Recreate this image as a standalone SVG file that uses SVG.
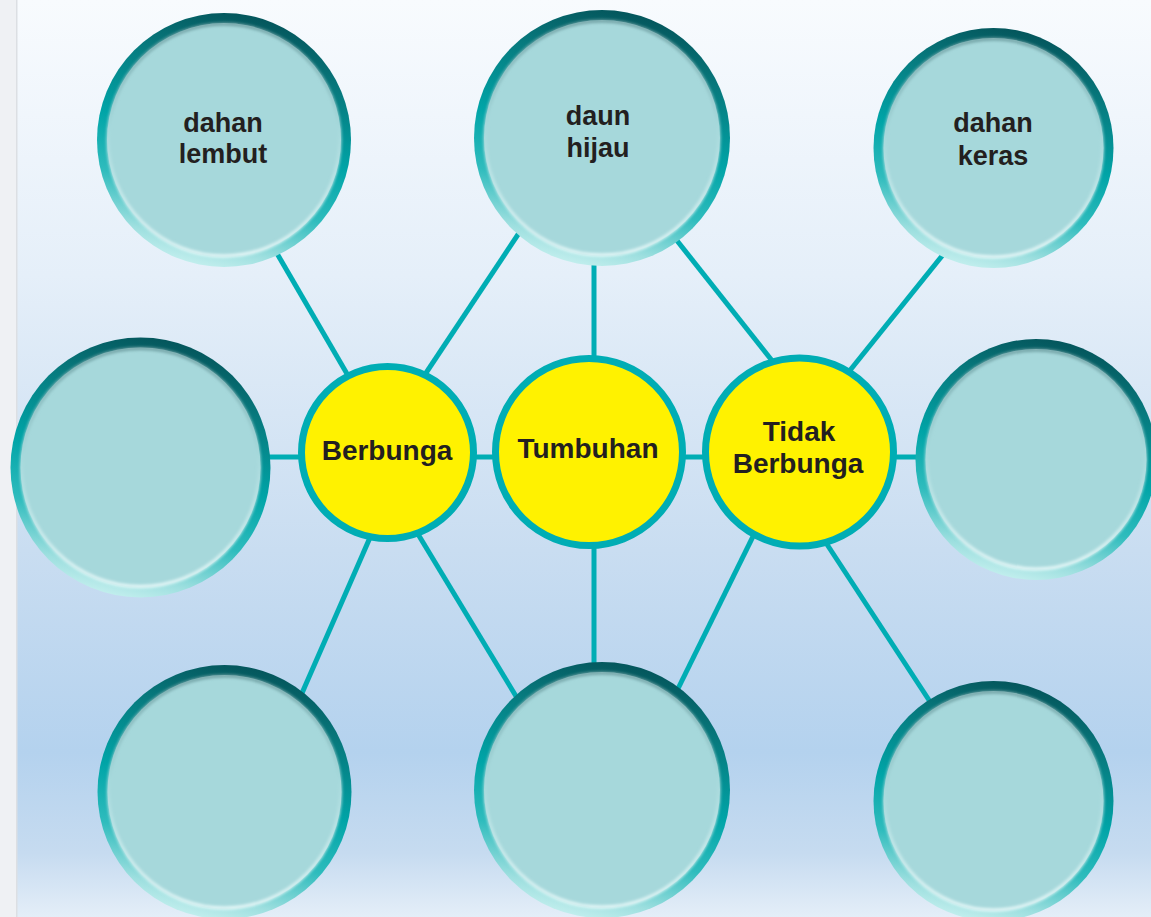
<svg xmlns="http://www.w3.org/2000/svg" width="1151" height="917" viewBox="0 0 1151 917">
  <defs>
    <linearGradient id="bg" x1="0" y1="0" x2="0" y2="1">
      <stop offset="0" stop-color="#f8fbfe"/>
      <stop offset="0.3" stop-color="#e5eff9"/>
      <stop offset="0.6" stop-color="#c9ddf1"/>
      <stop offset="0.82" stop-color="#b4d2ee"/>
      <stop offset="0.93" stop-color="#c6dbf0"/>
      <stop offset="1" stop-color="#e4eef8"/>
    </linearGradient>
    <linearGradient id="ring" x1="0.62" y1="0" x2="0.38" y2="1">
      <stop offset="0" stop-color="#04545a"/>
      <stop offset="0.22" stop-color="#077a7e"/>
      <stop offset="0.5" stop-color="#00a4a7"/>
      <stop offset="0.72" stop-color="#2fbcbd"/>
      <stop offset="0.9" stop-color="#9ddfdf"/>
      <stop offset="1" stop-color="#c6f0ef"/>
    </linearGradient>
    <linearGradient id="edge" x1="0" y1="0" x2="0" y2="1">
      <stop offset="0" stop-color="#6e9ea1"/>
      <stop offset="0.45" stop-color="#a6d9dc"/>
      <stop offset="1" stop-color="#eafafa"/>
    </linearGradient>
    <filter id="soft" x="-10%" y="-10%" width="120%" height="120%">
      <feGaussianBlur stdDeviation="1.4"/>
    </filter>
    <style>
      .ring { fill: url(#ring); }
      .inner { fill: #a6d8db; }
      .edge { fill: none; stroke: url(#edge); stroke-width: 3; filter: url(#soft); }
      .hub { fill: #fff200; stroke: #00adb4; stroke-width: 7; }
      .conn line { stroke: #00adb4; stroke-width: 5; }
      .lbl { font-family: "Liberation Sans", Arial, sans-serif; font-weight: bold; fill: #231f20; text-anchor: middle; }
      .s { font-size: 27px; }
      .h { font-size: 28px; }
    </style>
  </defs>

  <rect x="0" y="0" width="1151" height="917" fill="url(#bg)"/>
  <rect x="0" y="0" width="16" height="917" fill="#eff1f4"/>
  <rect x="16" y="0" width="1.5" height="917" fill="#dcdfe3"/>

  <g id="connectors" class="conn">
    <line x1="357" y1="391" x2="268" y2="238"/>
    <line x1="412" y1="394" x2="531" y2="215"/>
    <line x1="379" y1="517" x2="292" y2="716"/>
    <line x1="404" y1="511" x2="531" y2="721"/>
    <line x1="667" y1="228" x2="785" y2="377"/>
    <line x1="954" y1="241" x2="835" y2="389"/>
    <line x1="763" y1="516" x2="667" y2="711"/>
    <line x1="813" y1="523" x2="944" y2="723"/>
    <line x1="594" y1="250" x2="594" y2="370"/>
    <line x1="594" y1="535" x2="594" y2="680"/>
    <line x1="255" y1="457" x2="310" y2="457"/>
    <line x1="470" y1="457" x2="500" y2="457"/>
    <line x1="680" y1="457" x2="710" y2="457"/>
    <line x1="885" y1="457" x2="935" y2="457"/>
  </g>

  <g id="node-dahan-lembut">
    <circle class="ring" cx="224" cy="140" r="127"/>
    <circle class="inner" cx="224" cy="140" r="117"/>
    <circle class="edge" cx="224" cy="140" r="116"/>
    <text class="lbl s" x="223" y="132">dahan</text>
    <text class="lbl s" x="223" y="163">lembut</text>
  </g>

  <g id="node-daun-hijau">
    <circle class="ring" cx="602" cy="138" r="128"/>
    <circle class="inner" cx="602" cy="138" r="118"/>
    <circle class="edge" cx="602" cy="138" r="117"/>
    <text class="lbl s" x="598" y="125">daun</text>
    <text class="lbl s" x="598" y="157">hijau</text>
  </g>

  <g id="node-dahan-keras">
    <circle class="ring" cx="993.5" cy="148" r="120"/>
    <circle class="inner" cx="993.5" cy="148" r="110"/>
    <circle class="edge" cx="993.5" cy="148" r="109"/>
    <text class="lbl s" x="993" y="132">dahan</text>
    <text class="lbl s" x="993" y="165">keras</text>
  </g>

  <g id="node-mid-left">
    <circle class="ring" cx="140.5" cy="467.5" r="130"/>
    <circle class="inner" cx="140.5" cy="467.5" r="120"/>
    <circle class="edge" cx="140.5" cy="467.5" r="119"/>
  </g>

  <g id="node-mid-right">
    <circle class="ring" cx="1036" cy="459.5" r="120.5"/>
    <circle class="inner" cx="1036" cy="459.5" r="110.5"/>
    <circle class="edge" cx="1036" cy="459.5" r="109.5"/>
  </g>

  <g id="node-bottom-left">
    <circle class="ring" cx="224.5" cy="792" r="127"/>
    <circle class="inner" cx="224.5" cy="792" r="117"/>
    <circle class="edge" cx="224.5" cy="792" r="116"/>
  </g>

  <g id="node-bottom-center">
    <circle class="ring" cx="602" cy="790" r="128"/>
    <circle class="inner" cx="602" cy="790" r="118"/>
    <circle class="edge" cx="602" cy="790" r="117"/>
  </g>

  <g id="node-bottom-right">
    <circle class="ring" cx="993.5" cy="801" r="120"/>
    <circle class="inner" cx="993.5" cy="801" r="110"/>
    <circle class="edge" cx="993.5" cy="801" r="109"/>
  </g>

  <g id="node-berbunga">
    <circle class="hub" cx="387.5" cy="452.5" r="86"/>
    <text class="lbl h" x="387" y="460">Berbunga</text>
  </g>

  <g id="node-tumbuhan">
    <circle class="hub" cx="589" cy="452" r="93.5"/>
    <text class="lbl h" x="588" y="458">Tumbuhan</text>
  </g>

  <g id="node-tidak-berbunga">
    <circle class="hub" cx="799.5" cy="452" r="94"/>
    <text class="lbl h" x="799" y="441">Tidak</text>
    <text class="lbl h" x="798" y="473">Berbunga</text>
  </g>
</svg>
